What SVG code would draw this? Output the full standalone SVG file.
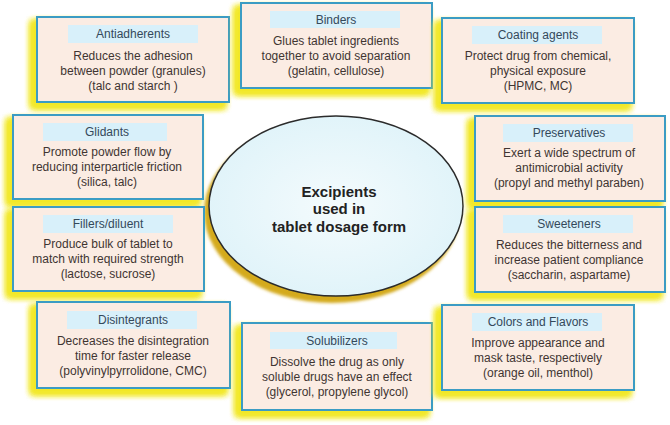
<svg xmlns="http://www.w3.org/2000/svg" width="670" height="425" viewBox="0 0 670 425">
<defs>
<filter id="glow" x="-20%" y="-20%" width="140%" height="140%">
<feFlood flood-color="#f2e82a" result="f"/>
<feComposite in="f" in2="SourceAlpha" operator="in" result="c"/>
<feOffset in="c" dx="-5" dy="5" result="o"/>
<feGaussianBlur in="o" stdDeviation="3" result="b"/>
<feMerge><feMergeNode in="b"/><feMergeNode in="b"/><feMergeNode in="b"/><feMergeNode in="SourceGraphic"/></feMerge>
</filter>
<radialGradient id="eg" cx="50%" cy="50%" r="55%">
<stop offset="0" stop-color="#f4fbfd"/>
<stop offset="1" stop-color="#dff3f9"/>
</radialGradient>
<filter id="eb" x="-10%" y="-10%" width="120%" height="130%"><feGaussianBlur stdDeviation="1.5"/></filter>
</defs>
<style>
.box{fill:#fbece3;stroke:#3b9cc4;stroke-width:2;filter:url(#glow)}
.band{fill:#d8f0fa}
.t{font-family:"Liberation Sans",Arial,sans-serif;font-size:12px;text-anchor:middle}
.h{fill:#34495a}
.b{fill:#3f3532}
.c{font-family:"Liberation Sans",Arial,sans-serif;font-size:15px;font-weight:bold;text-anchor:middle;fill:#222}
</style>
<rect width="670" height="425" fill="#ffffff"/>
<g id="connectors"></g>
<g id="center">
<ellipse cx="332" cy="212" rx="128" ry="91" fill="#d4aa1c" filter="url(#eb)"/>
<ellipse cx="336" cy="206" rx="127" ry="90" fill="url(#eg)" stroke="#2b2b2b" stroke-width="1.5"/>
<text class="c" x="339" y="197">Excipients</text>
<text class="c" x="339" y="214">used in</text>
<text class="c" x="339" y="232">tablet dosage form</text>
</g>
<g id="antiadherents">
<rect class="box" x="37" y="17" width="192" height="85"/>
<rect class="band" x="68" y="25" width="130" height="18"/>
<text class="t h" x="133" y="38">Antiadherents</text>
<text class="t b" x="133" y="60">Reduces the adhesion</text>
<text class="t b" x="133" y="75">between powder (granules)</text>
<text class="t b" x="133" y="90">(talc and starch )</text>
</g>
<g id="binders">
<rect class="box" x="241" y="3" width="191" height="85"/>
<rect class="band" x="270" y="11" width="130" height="17"/>
<text class="t h" x="336" y="24">Binders</text>
<text class="t b" x="336" y="45">Glues tablet ingredients</text>
<text class="t b" x="336" y="60">together to avoid separation</text>
<text class="t b" x="336" y="75">(gelatin, cellulose)</text>
</g>
<g id="coating">
<rect class="box" x="442" y="18" width="192" height="85"/>
<rect class="band" x="472" y="26" width="130" height="18"/>
<text class="t h" x="538" y="39">Coating agents</text>
<text class="t b" x="538" y="60">Protect drug from chemical,</text>
<text class="t b" x="538" y="75">physical exposure</text>
<text class="t b" x="538" y="90">(HPMC, MC)</text>
</g>
<g id="glidants">
<rect class="box" x="13" y="115" width="190" height="84"/>
<rect class="band" x="43" y="123" width="124" height="18"/>
<text class="t h" x="107" y="136">Glidants</text>
<text class="t b" x="107" y="156">Promote powder flow by</text>
<text class="t b" x="107" y="171">reducing interparticle friction</text>
<text class="t b" x="107" y="186">(silica, talc)</text>
</g>
<g id="preservatives">
<rect class="box" x="475" y="116" width="190" height="85"/>
<rect class="band" x="503" y="124" width="130" height="18"/>
<text class="t h" x="569" y="137">Preservatives</text>
<text class="t b" x="569" y="157">Exert a wide spectrum of</text>
<text class="t b" x="569" y="172">antimicrobial activity</text>
<text class="t b" x="569" y="187">(propyl and methyl paraben)</text>
</g>
<g id="fillers">
<rect class="box" x="13" y="207" width="191" height="84"/>
<rect class="band" x="43" y="215" width="130" height="18"/>
<text class="t h" x="108" y="228">Fillers/diluent</text>
<text class="t b" x="108" y="248">Produce bulk of tablet to</text>
<text class="t b" x="108" y="263">match with required strength</text>
<text class="t b" x="108" y="278">(lactose, sucrose)</text>
</g>
<g id="sweeteners">
<rect class="box" x="475" y="207" width="190" height="85"/>
<rect class="band" x="503" y="215" width="130" height="18"/>
<text class="t h" x="569" y="228">Sweeteners</text>
<text class="t b" x="569" y="249">Reduces the bitterness and</text>
<text class="t b" x="569" y="264">increase patient compliance</text>
<text class="t b" x="569" y="279">(saccharin, aspartame)</text>
</g>
<g id="disintegrants">
<rect class="box" x="37" y="302" width="193" height="86"/>
<rect class="band" x="67" y="311" width="130" height="18"/>
<text class="t h" x="133" y="324">Disintegrants</text>
<text class="t b" x="133" y="345">Decreases the disintegration</text>
<text class="t b" x="133" y="360">time for faster release</text>
<text class="t b" x="133" y="375">(polyvinylpyrrolidone, CMC)</text>
</g>
<g id="solubilizers">
<rect class="box" x="242" y="323" width="190" height="87"/>
<rect class="band" x="270" y="332" width="127" height="17"/>
<text class="t h" x="337" y="345">Solubilizers</text>
<text class="t b" x="337" y="366">Dissolve the drug as only</text>
<text class="t b" x="337" y="381">soluble drugs have an effect</text>
<text class="t b" x="337" y="396">(glycerol, propylene glycol)</text>
</g>
<g id="colors">
<rect class="box" x="442" y="305" width="192" height="85"/>
<rect class="band" x="472" y="313" width="130" height="18"/>
<text class="t h" x="538" y="326">Colors and Flavors</text>
<text class="t b" x="538" y="347">Improve appearance and</text>
<text class="t b" x="538" y="362">mask taste, respectively</text>
<text class="t b" x="538" y="377">(orange oil, menthol)</text>
</g>
</svg>
